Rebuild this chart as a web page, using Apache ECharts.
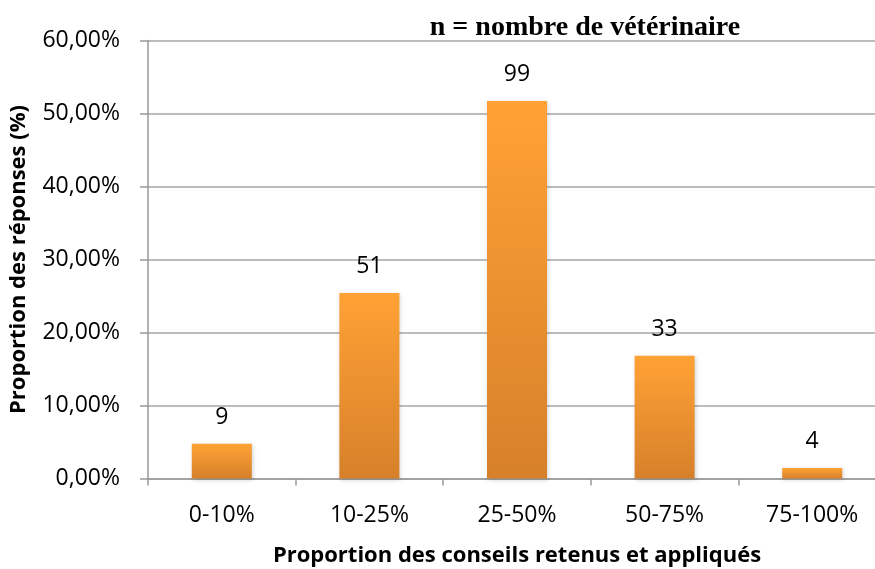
<!DOCTYPE html>
<html>
<head>
    <meta charset="utf-8">
    <title>Proportion des conseils retenus et appliqués</title>
    <script src="https://cdn.jsdelivr.net/npm/echarts@6/dist/echarts.min.js"></script>
    <style>
        body { margin: 0; background: #fff; }
        #chart { width: 875px; height: 569px; }
    </style>
</head>
<body>
    <div id="chart"></div>
    <script>
        // données
        var categories = ['0-10%', '10-25%', '25-50%', '50-75%', '75-100%'];
        var proportions = [4.75, 25.4, 51.7, 16.8, 1.45];   // % des réponses
        var effectifs = [9, 51, 99, 33, 4];                  // n vétérinaires
        var yTicks = [0, 10, 20, 30, 40, 50, 60];

        var chart = echarts.init(document.getElementById('chart'));

        var option = {
            animation: false,
            title: {
                text: 'n = nombre de vétérinaire',
                left: 580,
                top: 9,
                textAlign: 'center',
                textStyle: {
                    fontFamily: 'Liberation Serif',
                    fontWeight: 'bold',
                    fontSize: 28,
                    color: '#000'
                }
            },
            grid: {
                left: 148,
                top: 40.5,
                width: 738,
                height: 438,
                outerBoundsMode: 'none',
                containLabel: false
            },
            xAxis: {
                type: 'category',
                data: categories,
                name: 'Proportion des conseils retenus et appliqués',
                nameLocation: 'middle',
                nameGap: 66,
                nameTextStyle: {
                    fontFamily: 'Open Sans',
                    fontWeight: 'bold',
                    fontSize: 22,
                    color: '#000'
                },
                axisLine: { lineStyle: { color: '#999', width: 1.5 } },
                axisTick: { show: true, length: 7, lineStyle: { color: '#999', width: 1.5 } },
                axisLabel: {
                    margin: 25,
                    fontFamily: 'Open Sans',
                    fontSize: 23,
                    color: '#000'
                }
            },
            yAxis: {
                type: 'value',
                min: yTicks[0],
                max: yTicks[yTicks.length - 1],
                interval: 10,
                name: 'Proportion des réponses (%)',
                nameLocation: 'middle',
                nameGap: 118,
                nameTextStyle: {
                    fontFamily: 'Open Sans',
                    fontWeight: 'bold',
                    fontSize: 22,
                    color: '#000'
                },
                axisLine: { show: true, lineStyle: { color: '#999', width: 1.5 } },
                axisTick: { show: true, length: 8, lineStyle: { color: '#999', width: 1.5 } },
                splitLine: { lineStyle: { color: '#a6a6a6', width: 1.5 } },
                axisLabel: {
                    margin: 28,
                    fontFamily: 'Open Sans',
                    fontSize: 23,
                    color: '#000',
                    formatter: function (v) { return v.toFixed(2).replace('.', ',') + '%'; }
                }
            },
            series: [{
                type: 'bar',
                data: proportions,
                barWidth: 60,
                itemStyle: {
                    color: new echarts.graphic.LinearGradient(0, 0, 0, 1, [
                        { offset: 0, color: '#ffa235' },
                        { offset: 1, color: '#d6802a' }
                    ]),
                    shadowColor: 'rgba(0,0,0,0.18)',
                    shadowBlur: 4,
                    shadowOffsetX: 1,
                    shadowOffsetY: 1
                },
                label: {
                    show: true,
                    position: 'top',
                    distance: 15,
                    fontFamily: 'Open Sans',
                    fontSize: 23,
                    color: '#000',
                    formatter: function (p) { return effectifs[p.dataIndex]; }
                }
            }]
        };

        chart.setOption(option);
    </script>
</body>
</html>
